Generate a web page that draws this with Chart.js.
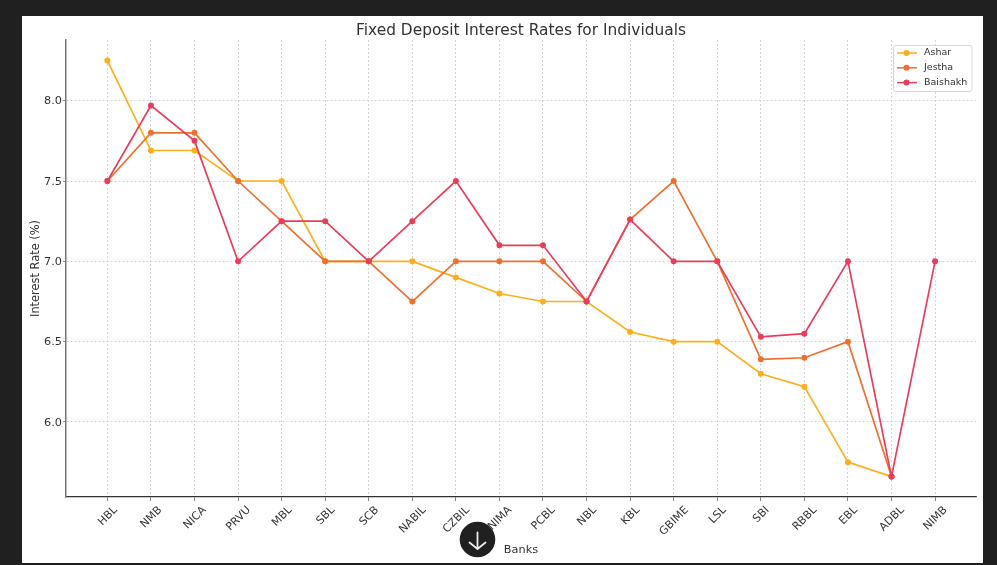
<!DOCTYPE html>
<html>
<head>
<meta charset="utf-8">
<title>Fixed Deposit Interest Rates for Individuals</title>
<script src="https://cdn.jsdelivr.net/npm/chart.js@4"></script>
<style>
  html, body { margin: 0; padding: 0; background: #202020; overflow: hidden; }
  #panel { position: absolute; left: 22px; top: 16px; width: 961px; height: 547px; background: #fff; }
  #myChart { position: absolute; left: 0; top: 0; }
  #down { position: absolute; left: 459px; top: 521px; width: 37px; height: 37px; }
</style>
</head>
<body>
<div id="panel"></div>
<canvas id="myChart" width="997" height="565"></canvas>
<svg id="down" viewBox="0 0 37 37">
  <circle cx="18.5" cy="18.5" r="17.8" fill="#202020"/>
  <path d="M18.5 11.5V28M10.5 21.5l8 6.5 8-6.5" fill="none" stroke="#ececec" stroke-width="1.8" stroke-linecap="round" stroke-linejoin="round"/>
</svg>
<script>
// Datos
const banks = ["HBL", "NMB", "NICA", "PRVU", "MBL", "SBL", "SCB", "NABIL", "CZBIL", "NIMA",
               "PCBL", "NBL", "KBL", "GBIME", "LSL", "SBI", "RBBL", "EBL", "ADBL", "NIMB"];
const ashar = [8.25, 7.69, 7.69, 7.5, 7.5, 7.0, 7.0, 7.0, 6.9, 6.8,
               6.75, 6.75, 6.56, 6.5, 6.5, 6.3, 6.22, 5.75, 5.66, null];
const jestha = [7.5, 7.8, 7.8, 7.5, 7.25, 7.0, 7.0, 6.75, 7.0, 7.0,
                7.0, 6.75, 7.26, 7.5, 7.0, 6.39, 6.4, 6.5, 5.66, null];
const baishakh = [7.5, 7.97, 7.75, 7.0, 7.25, 7.25, 7.0, 7.25, 7.5, 7.1,
                  7.1, 6.75, 7.26, 7.0, 7.0, 6.53, 6.55, 7.0, 5.66, 7.0];
const rateTicks = [6.0, 6.5, 7.0, 7.5, 8.0];

const fontFamily = "'DejaVu Sans'";
const textColor = '#333333';

function toPoints(values) {
    return values.map((v, i) => ({ x: i, y: v }));
}

function makeSeries(label, values, color, order) {
    return {
        label: label,
        data: toPoints(values),
        borderColor: color,
        backgroundColor: color,
        borderWidth: 1.7,
        pointRadius: 3,
        pointHoverRadius: 3,
        pointBorderWidth: 0,
        tension: 0,
        order: order
    };
}

// Etiquetas del eje x centradas en su marca, como en el original
const centerTickLabels = {
    id: 'centerTickLabels',
    beforeDraw(chart) {
        const scale = chart.scales.x;
        const c = chart.ctx;
        const top = scale.top + 7.5;
        scale.getLabelItems().forEach((item, i) => {
            c.save();
            c.font = item.font.string;
            const w = c.measureText(item.label).width;
            c.restore();
            item.textOffset = 0;
            item.options.textAlign = 'center';
            item.options.textBaseline = 'middle';
            item.options.translation = [
                scale.getPixelForValue(i) + 0.5,
                top + (w + item.font.size) * Math.SQRT1_2 / 2
            ];
        });
        // las del eje y quedan un poco mas abajo de la linea
        chart.scales.y.getLabelItems().forEach((item) => {
            item.options.translation[1] += 0.8;
        });
    }
};

// Leyenda dentro del area del grafico, linea con punto
const insideLegend = {
    id: 'insideLegend',
    afterDraw(chart) {
        const c = chart.ctx;
        const x = 893.5, y = 45.5, w = 78.5, h = 46;
        c.save();
        c.fillStyle = 'rgba(255,255,255,0.8)';
        c.strokeStyle = '#d8d8d8';
        c.lineWidth = 1;
        c.beginPath();
        c.roundRect(x, y, w, h, 2);
        c.fill();
        c.stroke();
        c.font = "9.5px " + fontFamily;
        c.textBaseline = 'middle';
        chart.data.datasets.forEach((ds, i) => {
            const rowY = y + 7.5 + i * 14.8;
            c.strokeStyle = ds.borderColor;
            c.fillStyle = ds.borderColor;
            c.lineWidth = 1.5;
            c.beginPath();
            c.moveTo(x + 3.5, rowY);
            c.lineTo(x + 23.5, rowY);
            c.stroke();
            c.beginPath();
            c.arc(x + 13, rowY, 3, 0, Math.PI * 2);
            c.fill();
            c.fillStyle = textColor;
            c.fillText(ds.label, x + 30.5, rowY);
        });
        c.restore();
    }
};

const ctx = document.getElementById('myChart');

const myChart = new Chart(ctx, {
    type: 'line',
    data: {
        datasets: [
            makeSeries('Ashar', ashar, '#FBAF1E', 3),
            makeSeries('Jestha', jestha, '#EC7030', 2),
            makeSeries('Baishakh', baishakh, '#E83E5C', 1)
        ]
    },
    plugins: [centerTickLabels, insideLegend],
    options: {
        responsive: false,
        animation: false,
        layout: { padding: { left: 22, right: 21, top: 0, bottom: 0 } },
        plugins: {
            legend: { display: false },
            tooltip: { enabled: false },
            title: {
                display: true,
                text: 'Fixed Deposit Interest Rates for Individuals',
                color: textColor,
                fullSize: false,
                font: { family: fontFamily, size: 15.4, weight: 'normal' },
                padding: { top: 21.5, bottom: 0 }
            }
        },
        scales: {
            x: {
                type: 'linear',
                min: -0.95,
                max: 19.94,
                afterBuildTicks(scale) {
                    scale.ticks = banks.map((b, i) => ({ value: i }));
                },
                afterFit(scale) { scale.height = 68; },
                ticks: {
                    autoSkip: false,
                    minRotation: 45,
                    maxRotation: 45,
                    color: textColor,
                    font: { family: fontFamily, size: 11 },
                    callback: (v) => banks[v]
                },
                grid: {
                    color: '#c4c4c4',
                    lineWidth: 0.7,
                    tickLength: 4,
                    tickColor: '#555555',
                    drawTicks: true
                },
                border: { color: '#333333', width: 1.3, dash: [2, 2] },
                title: {
                    display: true,
                    text: 'Banks',
                    color: textColor,
                    font: { family: fontFamily, size: 11.3 },
                    padding: { top: 0, bottom: 8 }
                }
            },
            y: {
                min: 5.533,
                max: 8.378,
                afterBuildTicks(scale) {
                    scale.ticks = rateTicks.map((v) => ({ value: v }));
                },
                afterFit(scale) { scale.width = 44; },
                ticks: {
                    color: textColor,
                    padding: 1,
                    font: { family: fontFamily, size: 11.3 },
                    callback: (v) => v.toFixed(1)
                },
                grid: {
                    color: '#c4c4c4',
                    lineWidth: 0.7,
                    tickLength: 3,
                    tickColor: '#555555'
                },
                border: { color: '#777777', width: 1.5, dash: [2, 2] },
                title: {
                    display: true,
                    text: 'Interest Rate (%)',
                    color: textColor,
                    font: { family: fontFamily, size: 11.4 },
                    padding: { top: 7, bottom: 7 }
                }
            }
        }
    }
});
</script>
</body>
</html>
